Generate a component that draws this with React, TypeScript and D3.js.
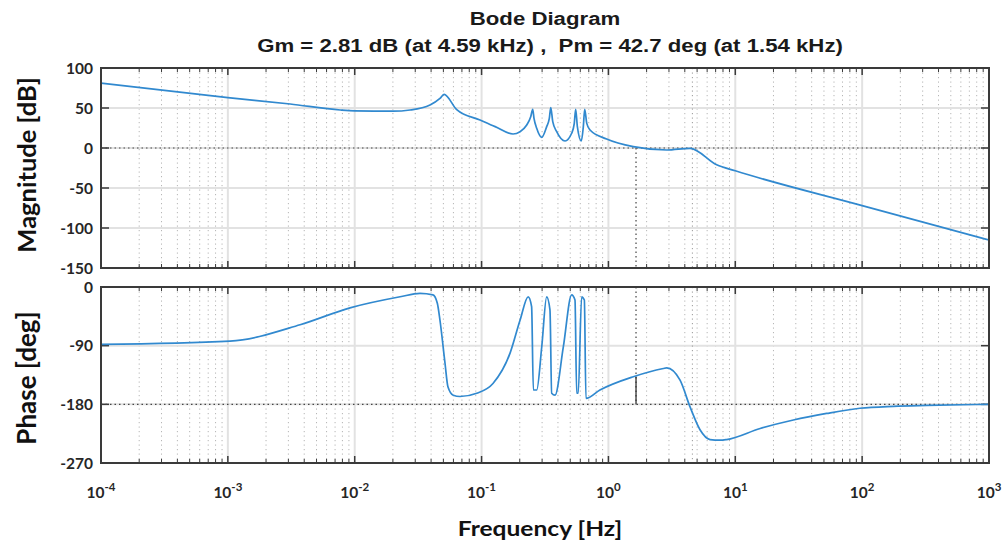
import React from 'react';
import * as d3 from 'd3';

// ---- data ----
const magFreq = [1e-4, 1e-3, 0.0031, 0.0077, 0.01, 0.02, 0.0273, 0.0392, 0.047, 0.0506, 0.0637, 0.0973, 0.128, 0.177, 0.201, 0.227, 0.244, 0.253, 0.259, 0.272, 0.298, 0.326, 0.342, 0.351, 0.364, 0.391, 0.455, 0.513, 0.538, 0.552, 0.569, 0.611, 0.634, 0.65, 0.675, 0.716, 0.968, 1.57, 2.88, 4.4, 7.13, 10, 100, 1000];
const magDb = [81, 63, 55, 47.5, 46.5, 46, 47.5, 53.75, 62, 67, 48, 35, 26.7, 17.5, 20.4, 28.75, 39, 48.3, 37, 24.6, 13.3, 26.7, 37, 50.4, 33, 20.4, 8.75, 18.4, 30.8, 48.4, 26.7, 8.75, 26.7, 48.4, 30.8, 22.5, 11.25, 1.7, -2.5, -0.4, -21, -28.5, -72, -115];

const phaseFreq = [1e-4, 0.00104, 0.00371, 0.00918, 0.0228, 0.0327, 0.0414, 0.0448, 0.047, 0.0515, 0.0543, 0.0598, 0.0676, 0.0917, 0.123, 0.168, 0.201, 0.233, 0.248, 0.256, 0.272, 0.298, 0.326, 0.346, 0.357, 0.379, 0.441, 0.513, 0.545, 0.562, 0.578, 0.615, 0.646, 0.665, 0.857, 1.57, 2.71, 2.88, 3.67, 4.4, 5.27, 6.32, 7.57, 8.55, 15.7, 28.7, 52.5, 96, 176, 323, 1000];
const phaseDeg = [-88, -83, -58, -32, -15, -9.7, -12, -25, -51, -117, -153, -166, -168, -163, -148, -101, -51, -15, -30, -158, -158, -92, -15, -35, -163, -166, -92, -12, -20, -163, -163, -15, -20, -171, -158, -137.6, -125, -124, -143, -184, -219, -234, -235, -234, -217, -204, -194, -186, -183, -181.6, -180];

const magTicks = [100, 50, 0, -50, -100, -150];
const phaseTicks = [0, -90, -180, -270];
const decadeExps = [-4, -3, -2, -1, 0, 1, 2, 3];
const titleLine1 = 'Bode Diagram';
const titleLine2 = 'Gm = 2.81 dB (at 4.59 kHz) ,  Pm = 42.7 deg (at 1.54 kHz)';
const magLabel = 'Magnitude [dB]';
const phaseLabel = 'Phase [deg]';
const xLabel = 'Frequency [Hz]';
const pmFreq = 1.65;
const pmPhase = -137.3;
const gmFreq = 4.59;

const W = 1003, H = 546;
const left = 101, right = 989;
const magTop = 68, magBottom = 268;
const phTop = 287, phBottom = 463;

const lineColor = '#3189cf';
const frameColor = '#3a3a3a';
const tickFont = 'Lato, "Open Sans", sans-serif';
const titleFont = '"Liberation Sans", Arial, sans-serif';

export default function App() {
  const x = d3.scaleLog().domain([1e-4, 1e3]).range([left, right]);
  const yMag = d3.scaleLinear().domain([-150, 100]).range([magBottom, magTop]);
  const yPh = d3.scaleLinear().domain([-270, 0]).range([phBottom, phTop]);

  const minors: number[] = [];
  for (let e = -4; e < 3; e++) for (let m = 2; m <= 9; m++) minors.push(m * Math.pow(10, e));
  const majors = decadeExps.map((e) => Math.pow(10, e));

  const magLine = d3.line<number>().x((_, i) => x(magFreq[i])).y((d) => yMag(d)).curve(d3.curveMonotoneX)(magDb) || '';
  const phLine = d3.line<number>().x((_, i) => x(phaseFreq[i])).y((d) => yPh(d)).curve(d3.curveMonotoneX)(phaseDeg) || '';

  const panel = (top: number, bottom: number, yScale: d3.ScaleLinear<number, number>, ticks: number[], key: string) => (
    <g key={key}>
      {minors.map((f, i) => (
        <line key={'mn' + i} x1={x(f)} x2={x(f)} y1={top} y2={bottom} stroke="#b5b5b5" strokeWidth={1} strokeDasharray="1.2,3.3" />
      ))}
      {majors.slice(1, -1).map((f, i) => (
        <line key={'mj' + i} x1={x(f)} x2={x(f)} y1={top} y2={bottom} stroke="#e2e2e2" strokeWidth={2} />
      ))}
      {ticks.slice(1, -1).map((t, i) => (
        <line key={'hg' + i} x1={left} x2={right} y1={yScale(t)} y2={yScale(t)} stroke="#e2e2e2" strokeWidth={2} />
      ))}
      {minors.map((f, i) => (
        <g key={'mt' + i}>
          <line x1={x(f)} x2={x(f)} y1={top} y2={top + 4} stroke={frameColor} strokeWidth={1} />
          <line x1={x(f)} x2={x(f)} y1={bottom} y2={bottom - 4} stroke={frameColor} strokeWidth={1} />
        </g>
      ))}
      {majors.map((f, i) => (
        <g key={'Mt' + i}>
          <line x1={x(f)} x2={x(f)} y1={top} y2={top + 7} stroke={frameColor} strokeWidth={1.5} />
          <line x1={x(f)} x2={x(f)} y1={bottom} y2={bottom - 7} stroke={frameColor} strokeWidth={1.5} />
        </g>
      ))}
      {ticks.map((t, i) => (
        <g key={'yt' + i}>
          <line x1={left} x2={left + 8} y1={yScale(t)} y2={yScale(t)} stroke={frameColor} strokeWidth={1.5} />
          <line x1={right} x2={right - 8} y1={yScale(t)} y2={yScale(t)} stroke={frameColor} strokeWidth={1.5} />
          <text x={left - 8} y={yScale(t)} dy="0.36em" textAnchor="end" fontFamily={tickFont} fontWeight="bold" fontSize={15.5} fill="#262626">{t}</text>
        </g>
      ))}
    </g>
  );

  return (
    <svg width={W} height={H} style={{ position: 'absolute', left: 0, top: 0, background: '#fff' }}>
      <rect x={0} y={0} width={W} height={H} fill="#fff" />
      {panel(magTop, magBottom, yMag, magTicks, 'mag')}
      {panel(phTop, phBottom, yPh, phaseTicks, 'ph')}

      {/* margin lines */}
      <line x1={left} x2={right} y1={yMag(0)} y2={yMag(0)} stroke="#444" strokeWidth={1.2} strokeDasharray="1.5,3" />
      <line x1={left} x2={right} y1={yPh(-180)} y2={yPh(-180)} stroke="#444" strokeWidth={1.2} strokeDasharray="1.5,3" />
      <line x1={x(pmFreq)} x2={x(pmFreq)} y1={yMag(0)} y2={magBottom} stroke="#444" strokeWidth={1.2} strokeDasharray="1.5,3" />
      <line x1={x(pmFreq)} x2={x(pmFreq)} y1={phTop} y2={yPh(-180)} stroke="#444" strokeWidth={1.2} strokeDasharray="1.5,3" />
      <line x1={x(pmFreq)} x2={x(pmFreq)} y1={yPh(-180)} y2={yPh(pmPhase)} stroke="#333" strokeWidth={1.3} />
      <line x1={x(gmFreq)} x2={x(gmFreq)} y1={magTop} y2={magBottom} stroke="#999" strokeWidth={1} strokeDasharray="1.2,3.3" />
      <line x1={x(gmFreq)} x2={x(gmFreq)} y1={phTop} y2={phBottom} stroke="#999" strokeWidth={1} strokeDasharray="1.2,3.3" />

      {/* curves */}
      <path d={magLine} fill="none" stroke={lineColor} strokeWidth={1.7} strokeLinejoin="round" />
      <path d={phLine} fill="none" stroke={lineColor} strokeWidth={1.7} strokeLinejoin="round" />

      {/* frames */}
      <rect x={left} y={magTop} width={right - left} height={magBottom - magTop} fill="none" stroke={frameColor} strokeWidth={2} />
      <rect x={left} y={phTop} width={right - left} height={phBottom - phTop} fill="none" stroke={frameColor} strokeWidth={2} />

      {/* x tick labels */}
      {decadeExps.map((e, i) => (
        <text key={'xl' + i} x={x(Math.pow(10, e))} y={498} textAnchor="middle" fontFamily={tickFont} fontWeight="bold" fontSize={15.5} fill="#262626">
          10<tspan dy={-7} fontSize={11.5}>{e}</tspan>
        </text>
      ))}

      {/* titles */}
      <g transform="translate(545,25) scale(1.2,1)">
        <text x={0} y={0} textAnchor="middle" fontFamily={titleFont} fontWeight="bold" fontSize={18.5} fill="#1a1a1a">{titleLine1}</text>
      </g>
      <g transform="translate(550,52) scale(1.2,1)">
        <text x={0} y={0} textAnchor="middle" fontFamily={titleFont} fontWeight="bold" fontSize={18.5} fill="#1a1a1a" style={{ whiteSpace: 'pre' }}>{titleLine2}</text>
      </g>

      {/* axis labels */}
      <text transform={`translate(36,${(magTop + magBottom) / 2 - 3}) rotate(-90)`} textAnchor="middle" fontFamily={tickFont} fontWeight="bold" fontSize={25.5} fill="#111">{magLabel}</text>
      <text transform={`translate(36,${(phTop + phBottom) / 2 + 3}) rotate(-90)`} textAnchor="middle" fontFamily={tickFont} fontWeight="bold" fontSize={26} fill="#111">{phaseLabel}</text>
      <g transform="translate(540,536) scale(1.17,1)">
        <text x={0} y={0} textAnchor="middle" fontFamily={tickFont} fontWeight="bold" fontSize={21} fill="#111">{xLabel}</text>
      </g>
    </svg>
  );
}
